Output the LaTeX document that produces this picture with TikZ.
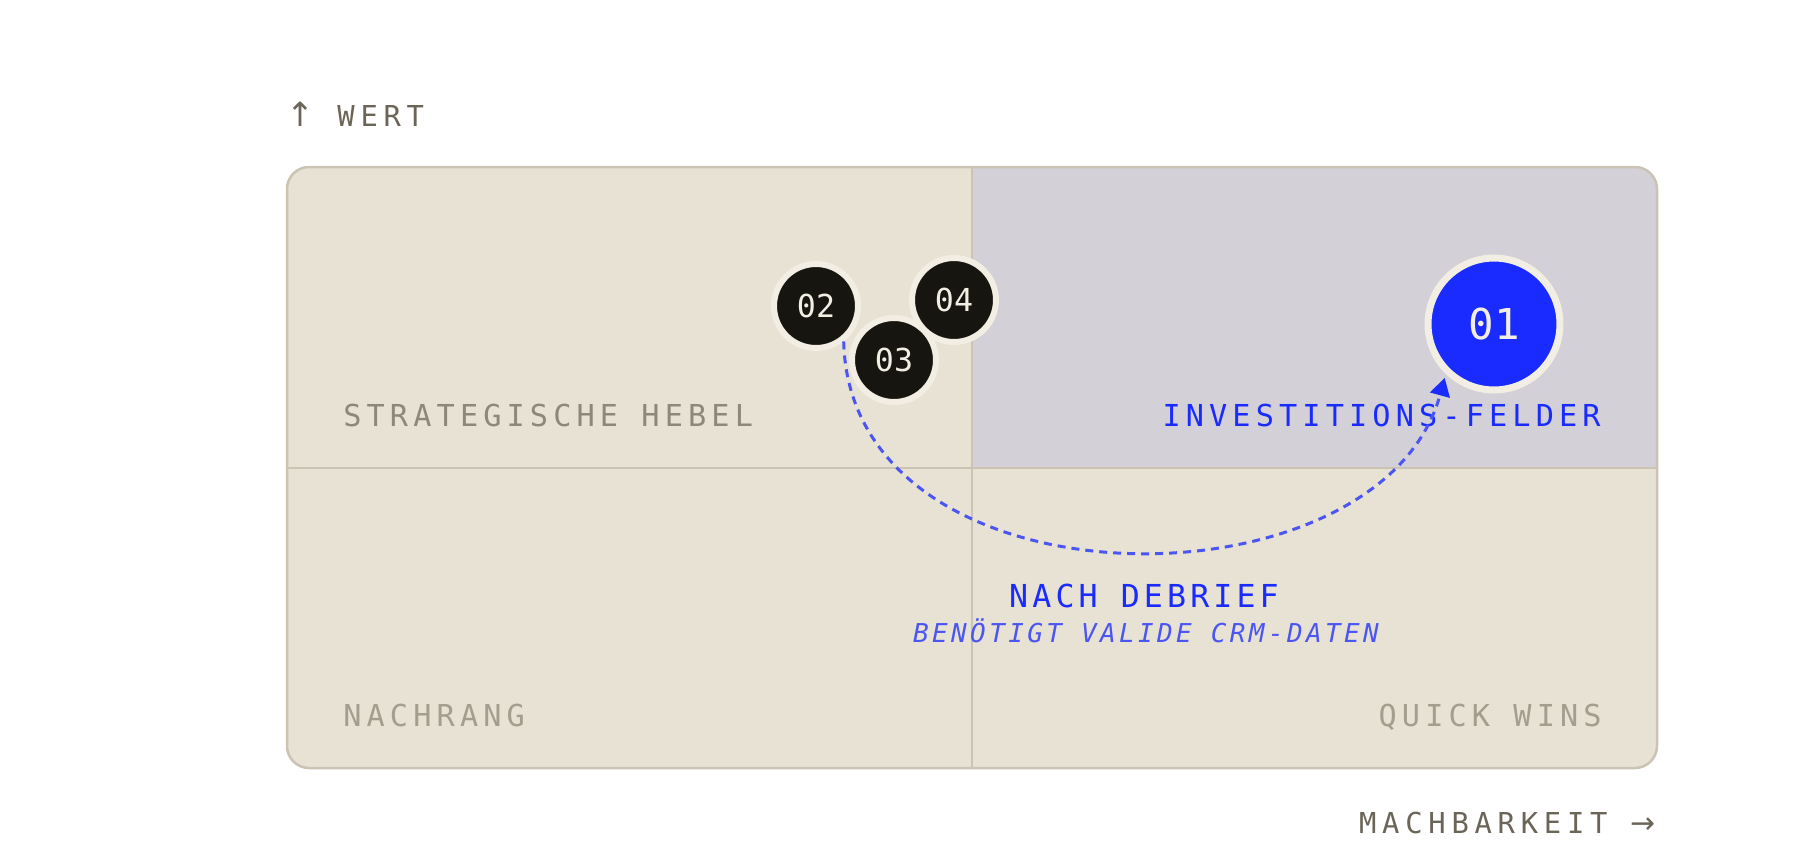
\documentclass[tikz,border=0pt]{standalone}
\usepackage{fontspec}
\usepackage{tikz}
\usetikzlibrary{arrows.meta}

\newfontfamily\axisfont[LetterSpace=20]{DejaVu Sans Mono}
\newfontfamily\arrowfont{DejaVu Sans}
\newfontfamily\quadfont[LetterSpace=17]{DejaVu Sans Mono}
\newfontfamily\notefont[LetterSpace=13]{DejaVu Sans Mono}
\newfontfamily\numfont{DejaVu Sans Mono}

\definecolor{paper}{HTML}{E7E2D3}
\definecolor{hot}{HTML}{D3D0D8}
\definecolor{rule}{HTML}{CBC4B4}
\definecolor{ink}{HTML}{6B6558}
\definecolor{muted}{HTML}{8F887A}
\definecolor{faint}{HTML}{A59E8F}
\definecolor{signal}{HTML}{1A2BFF}
\definecolor{signallight}{HTML}{4B56F2}
\definecolor{dot}{HTML}{16150F}
\definecolor{ring}{HTML}{F2EEE4}

\tikzset{
  quadlabel/.style={inner sep=0pt, font=\quadfont\fontsize{17.2}{20}\selectfont},
  axislabel/.style={inner sep=0pt, text=ink, font=\axisfont\fontsize{16.4}{20}\selectfont},
  item/.style={circle, fill=dot, draw=ring, line width=0.12cm, minimum size=1.68cm,
    inner sep=0pt, text=ring, font=\numfont\fontsize{18}{20}\selectfont},
}

\begin{document}
\begin{tikzpicture}[x=0.02cm, y=-0.02cm]
    \useasboundingbox (0,0) rectangle (1800,840);
    % board
    \fill[paper, rounded corners=0.44cm] (287,167) rectangle (1657,768);
    \begin{scope}
        \clip[rounded corners=0.44cm] (287,167) rectangle (1657,768);
        \fill[hot] (972,167) rectangle (1657,468);
    \end{scope}
    \draw[rule, line width=0.04cm] (972,167) -- (972,768);
    \draw[rule, line width=0.04cm] (287,468) -- (1657,468);
    \draw[rule, line width=0.05cm, rounded corners=0.44cm] (287,167) rectangle (1657,768);

    % quadrants
    \node[quadlabel, text=muted, anchor=base west] (hebel) at (343,426) {STRATEGISCHE HEBEL};
    \node[quadlabel, text=signal, anchor=base east] (invest) at (1601,426) {INVESTITIONS-FELDER};
    \node[quadlabel, text=faint, anchor=base west] (nachrang) at (343,726) {NACHRANG};
    \node[quadlabel, text=faint, anchor=base east] (quick) at (1602,726) {QUICK WINS};

    % axes
    \node[axislabel, anchor=base west] (wert) at (286,126) {{\arrowfont\fontsize{19}{20}\selectfont ↑} WERT};
    \node[axislabel, anchor=base east] (machbar) at (1656,833) {MACHBARKEIT {\arrowfont\fontsize{17}{20}\selectfont →}};

    % items
    \node[item] (c02) at (816,306) {02};
    \node[item] (c04) at (954,300) {04};
    \node[item] (c03) at (894,360) {03};
    \node[item, fill=signal, line width=0.14cm, minimum size=2.64cm,
        font=\numfont\fontsize{24.2}{28}\selectfont] (c01) at (1494,324) {01};

    \draw[signallight, line width=0.06cm, dash pattern=on 0.16cm off 0.12cm, shorten >=0.08cm,
        -{Triangle[length=0.36cm, width=0.4cm, color=signal]}]
        (c02.-52) .. controls (850,615) and (1380,615) .. (c01.-134);

    \node[inner sep=0pt, text=signal, anchor=base, font=\notefont\fontsize{18}{20}\selectfont]
        (debrief) at (1144,607) {NACH DEBRIEF};
    \node[inner sep=0pt, text=signallight, anchor=base, font=\notefont\itshape\fontsize{14.8}{18}\selectfont]
        (crm) at (1146,642) {BENÖTIGT VALIDE CRM-DATEN};
\end{tikzpicture}
\end{document}
